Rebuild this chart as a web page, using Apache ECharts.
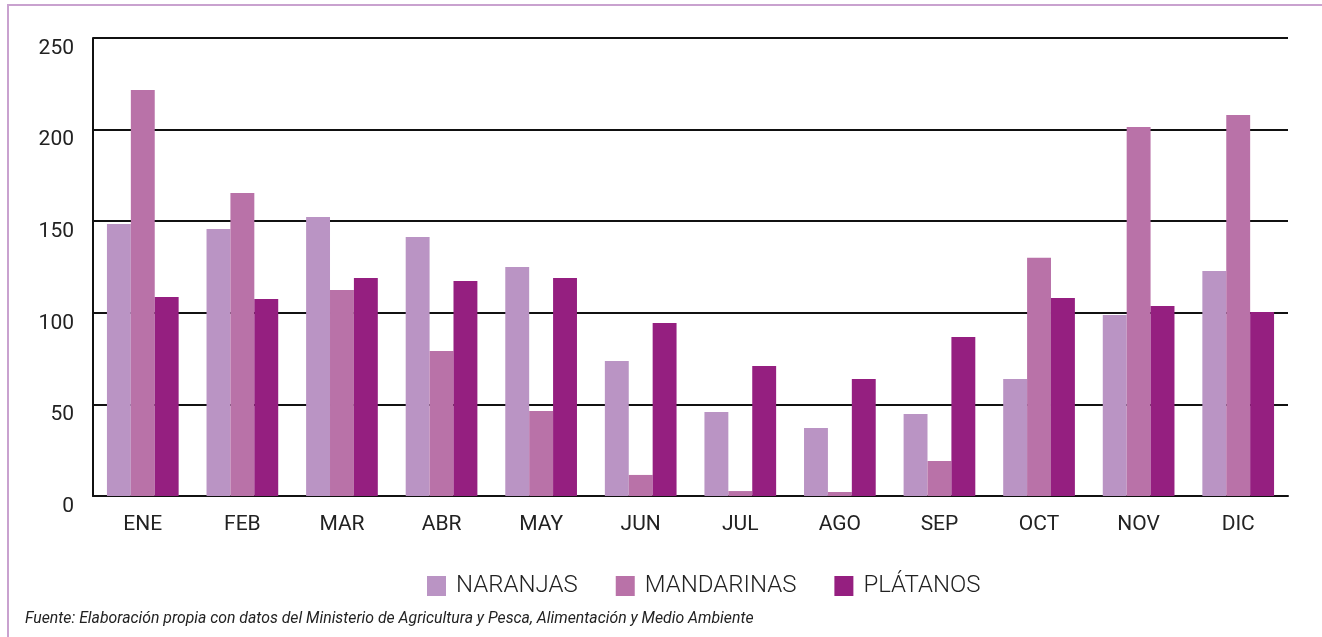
<!DOCTYPE html>
<html>
<head>
<meta charset="utf-8">
<script src="https://cdn.jsdelivr.net/npm/echarts@6/dist/echarts.min.js"></script>
<style>
  html, body { margin: 0; padding: 0; background: #fff; }
  #main { width: 1322px; height: 637px; }
</style>
</head>
<body>
<div id="main"></div>
<script>
// meses
var meses = ['ENE', 'FEB', 'MAR', 'ABR', 'MAY', 'JUN', 'JUL', 'AGO', 'SEP', 'OCT', 'NOV', 'DIC'];
// valores
var naranjas = [148.5, 145.7, 152.3, 141.4, 125, 73.7, 45.9, 37.1, 44.8, 63.9, 98.8, 122.8];
var mandarinas = [221.6, 165.4, 112.4, 79.1, 46.4, 11.5, 2.7, 2.2, 19.1, 130, 201.4, 208];
var platanos = [108.6, 107.5, 119, 117.4, 119, 94.4, 71, 63.9, 86.8, 108.1, 103.7, 100.4];
var nombres = ['NARANJAS', 'MANDARINAS', 'PLÁTANOS'];
var colores = ['#BA94C4', '#B972A8', '#951F80'];

var chart = echarts.init(document.getElementById('main'));

function serie(i, datos) {
  return {
    name: nombres[i],
    type: 'bar',
    data: datos,
    barGap: 0,
    barCategoryGap: '28%',
    itemStyle: { color: colores[i] },
    z: 3
  }
}

var option = {
  animation: false,
  textStyle: { fontFamily: 'Roboto' },
  graphic: [
    {
      type: 'rect',
      shape: { x: 8, y: 5, width: 1330, height: 650 },
      style: { fill: 'none', stroke: '#C9A2CF', lineWidth: 2 },
      z: -1
    },
    {
      type: 'text',
      left: 25,
      top: 611,
      style: {
        text: 'Fuente: Elaboración propia con datos del Ministerio de Agricultura y Pesca, Alimentación y Medio Ambiente',
        font: 'italic 15.8px Roboto',
        fill: '#222'
      }
    }
  ],
  legend: {
    data: nombres,
    left: 422,
    top: 569,
    itemWidth: 19,
    itemHeight: 20,
    itemGap: 38,
    icon: 'rect',
    textStyle: { fontSize: 24, color: '#222', fontFamily: 'Roboto', fontWeight: 300, padding: [0, 0, 0, 5] }
  },
  grid: { left: 93, right: 34, top: 38, bottom: 141 },
  xAxis: {
    type: 'category',
    data: meses,
    axisLine: { lineStyle: { color: '#111', width: 2 } },
    axisTick: { inside: true, length: 9, lineStyle: { color: '#111', width: 2 } },
    axisLabel: { fontSize: 21, color: '#222', margin: 18 }
  },
  yAxis: {
    type: 'value',
    min: 0,
    max: 250,
    interval: 50,
    axisLine: { show: true, lineStyle: { color: '#111', width: 2 } },
    axisTick: { show: false },
    axisLabel: { fontSize: 21, color: '#222', margin: 19, verticalAlign: 'top' },
    splitLine: { lineStyle: { color: '#111', width: 2 } }
  },
  series: [serie(0, naranjas), serie(1, mandarinas), serie(2, platanos)]
};

chart.setOption(option);
</script>
</body>
</html>
